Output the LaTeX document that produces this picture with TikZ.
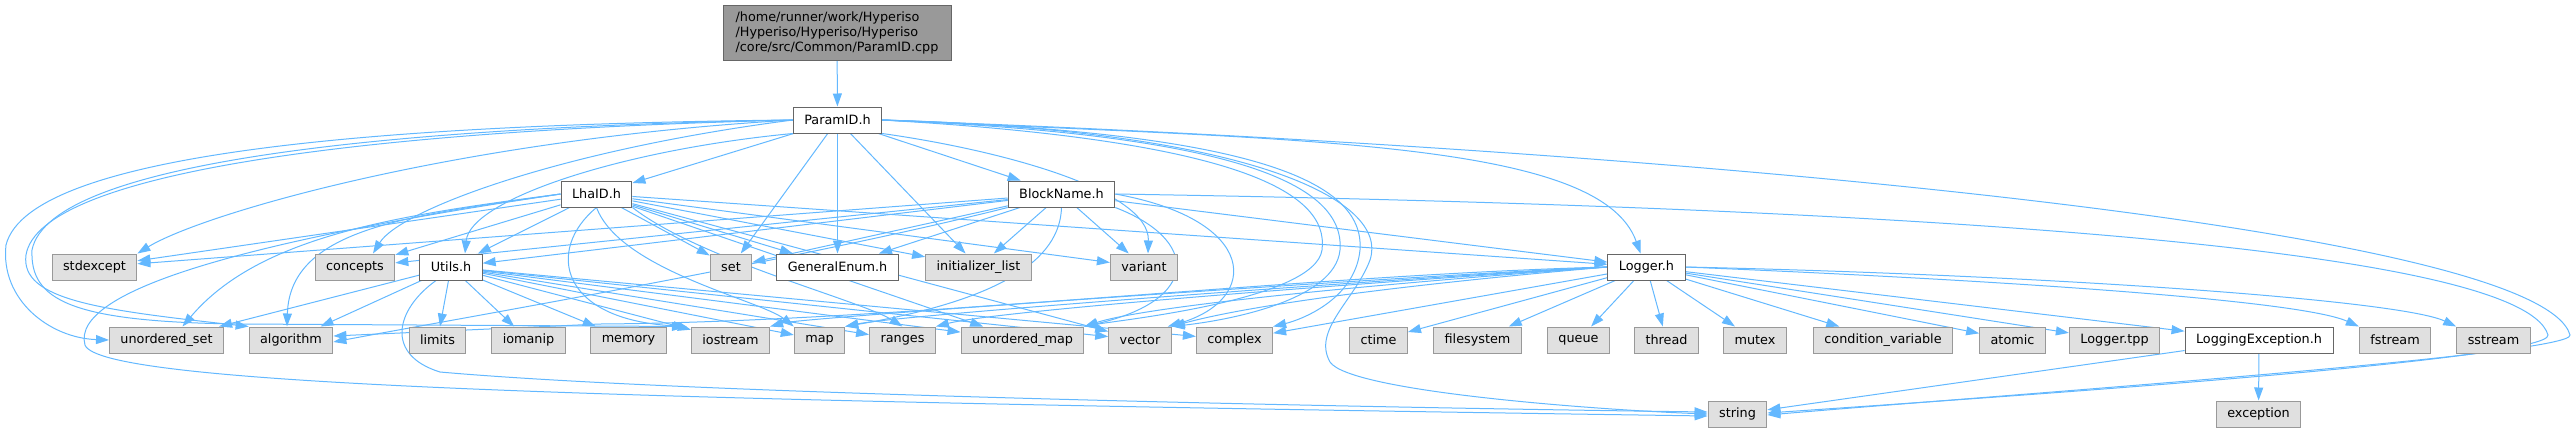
\documentclass[tikz,border=0pt]{standalone}
\usepackage{fontspec}
\setmainfont{DejaVu Sans}
\usetikzlibrary{arrows.meta,backgrounds}
\definecolor{edgecol}{HTML}{63B8FF}
\definecolor{sysfill}{HTML}{E0E0E0}
\definecolor{sysdraw}{HTML}{999999}
\definecolor{hdrdraw}{HTML}{666666}
\definecolor{rootfill}{HTML}{999999}
\tikzset{
  box/.style={rectangle, minimum height=26pt, inner xsep=11pt, inner ysep=0pt, line width=1pt, font=\fontsize{12.8}{15}\selectfont},
  hdr/.style={box, draw=hdrdraw, fill=white},
  sys/.style={box, draw=sysdraw, fill=sysfill},
  root/.style={box, draw=hdrdraw, fill=rootfill, align=left, minimum width=228pt, minimum height=55pt},
  edge/.style={draw=edgecol, line width=1pt, -{Triangle[length=13pt,width=9pt]}},
}

\begin{document}
\begin{tikzpicture}[x=1pt,y=-1pt]
\useasboundingbox (0,0) rectangle (2575,432);
\node[root] (ParamIDcpp) at (837,32.5) {/home/runner/work/Hyperiso\\/Hyperiso/Hyperiso/Hyperiso\\/core/src/Common/ParamID.cpp};
\node[hdr] (ParamIDh) at (837.5,120) {ParamID.h};
\node[hdr] (LhaIDh) at (596.5,194) {LhaID.h};
\node[hdr] (BlockNameh) at (1061.5,194) {BlockName.h};
\node[sys] (stdexcept) at (94.5,267) {stdexcept};
\node[sys] (concepts) at (355,267) {concepts};
\node[hdr] (Utilsh) at (451,267) {Utils.h};
\node[sys] (set) at (731,267) {set};
\node[hdr] (GeneralEnumh) at (837.5,267) {GeneralEnum.h};
\node[sys] (initializerlist) at (978.5,267) {initializer\_list};
\node[sys] (variant) at (1144,267) {variant};
\node[hdr] (Loggerh) at (1646.5,267) {Logger.h};
\node[sys] (unorderedset) at (166.5,340) {unordered\_set};
\node[sys] (algorithm) at (291,340) {algorithm};
\node[sys] (limits) at (437.5,340) {limits};
\node[sys] (iomanip) at (528.5,340) {iomanip};
\node[sys] (memory) at (628.5,340) {memory};
\node[sys] (iostream) at (730.5,340) {iostream};
\node[sys] (map) at (819.5,340) {map};
\node[sys] (ranges) at (902.5,340) {ranges};
\node[sys] (unorderedmap) at (1022.5,340) {unordered\_map};
\node[sys] (vector) at (1140,340) {vector};
\node[sys] (complex) at (1234.5,340) {complex};
\node[sys] (ctime) at (1378.5,340) {ctime};
\node[sys] (filesystem) at (1477.5,340) {filesystem};
\node[sys] (queue) at (1578.5,340) {queue};
\node[sys] (thread) at (1666.5,340) {thread};
\node[sys] (mutex) at (1755,340) {mutex};
\node[sys] (condvar) at (1883,340) {condition\_variable};
\node[sys] (atomic) at (2012.5,340) {atomic};
\node[sys] (Loggertpp) at (2114.5,340) {Logger.tpp};
\node[hdr] (LoggingExceptionh) at (2259,340) {LoggingException.h};
\node[sys] (fstream) at (2395,340) {fstream};
\node[sys] (sstream) at (2493.5,340) {sstream};
\node[sys] (string) at (1737.5,414) {string};
\node[sys] (exception) at (2258.5,414) {exception};

\begin{pgfonlayer}{background}
\draw[edge] (ParamIDcpp) -- (ParamIDh);

\draw[edge] (ParamIDh) -- (LhaIDh);
\draw[edge] (ParamIDh) -- (BlockNameh);
\draw[edge] (ParamIDh) -- (set);
\draw[edge] (ParamIDh) -- (GeneralEnumh);
\draw[edge] (ParamIDh) -- (initializerlist);
\draw[edge] (ParamIDh.south east) .. controls (1000,150) and (1150,190) .. ([xshift=4pt]variant.north);
\draw[edge] (ParamIDh.east) .. controls (1300,140) and (1600,140) .. ([xshift=-6pt]Loggerh.north);
\draw[edge] (ParamIDh.south west) .. controls (620,150) and (470,200) .. ([xshift=14pt]Utilsh.north);
\draw[edge] (ParamIDh.west) .. controls (560,150) and (400,210) .. ([xshift=18pt]concepts.north);
\draw[edge] (ParamIDh.west) .. controls (450,140) and (200,215) .. (stdexcept.north east);
\draw[edge] (ParamIDh.west) .. controls (400,124) and (30,150) .. (6,245) .. controls (0,300) and (50,338) .. (unorderedset.west);
\draw[edge] (ParamIDh.west) .. controls (380,130) and (40,170) .. (26,255) .. controls (20,300) and (100,310) .. (algorithm.north west);
\draw[edge] (ParamIDh.west) .. controls (400,127) and (50,160) .. (32,250) .. controls (30,300) and (70,322) .. (240,324) -- ([xshift=-6pt]iostream.north west);
\draw[edge] (ParamIDh.east) .. controls (1700,150) and (2540,230) .. (2570,335) .. controls (2575,355) and (2000,395) .. ([yshift=-1pt]string.east);
\draw[edge] (ParamIDh.east) .. controls (1250,130) and (1390,200) .. (1370,260) .. controls (1355,300) and (1312,330) .. (1330,362) .. controls (1350,392) and (1600,410) .. (string.west);
\draw[edge] (ParamIDh.east) .. controls (1250,132) and (1365,180) .. (1360,250) .. controls (1355,300) and (1300,320) .. (complex.north east);
\draw[edge] (ParamIDh.east) .. controls (1240,135) and (1345,185) .. (1340,250) .. controls (1335,300) and (1230,320) .. (vector.north east);
\draw[edge] (ParamIDh.east) .. controls (1230,140) and (1330,190) .. (1322,250) .. controls (1315,300) and (1120,320) .. (unorderedmap.north east);

\draw[edge] (LhaIDh) -- (stdexcept);
\draw[edge] (LhaIDh) -- (concepts);
\draw[edge] (LhaIDh) -- (Utilsh);
\draw[edge] (LhaIDh) -- (set);
\draw[edge] (LhaIDh) -- (GeneralEnumh);
\draw[edge] (LhaIDh) -- (initializerlist);
\draw[edge] (LhaIDh) -- (variant);
\draw[edge] (LhaIDh) -- (Loggerh);
\draw[edge] (LhaIDh.west) .. controls (400,215) and (260,235) .. ([xshift=16pt]unorderedset.north);
\draw[edge] (LhaIDh.west) .. controls (420,215) and (290,225) .. ([xshift=-4pt]algorithm.north);
\draw[edge] (LhaIDh.west) .. controls (250,240) and (70,290) .. (85,345) .. controls (100,385) and (600,400) .. ([yshift=-2pt]string.west);
\draw[edge] (LhaIDh.south) .. controls (545,250) and (560,320) .. ([xshift=-4pt]iostream.north west);
\draw[edge] (LhaIDh.south) .. controls (620,270) and (760,300) .. (map.north west);
\draw[edge] (LhaIDh.south east) .. controls (700,260) and (860,300) .. (ranges.north);
\draw[edge] (LhaIDh) -- (unorderedmap);
\draw[edge] (LhaIDh) -- (vector);

\draw[edge] (Utilsh) -- (unorderedset);
\draw[edge] (Utilsh) -- (algorithm);
\draw[edge] (Utilsh) -- (limits);
\draw[edge] (Utilsh) -- (iomanip);
\draw[edge] (Utilsh) -- (memory);
\draw[edge] (Utilsh) -- (iostream);
\draw[edge] (Utilsh) -- (map);
\draw[edge] (Utilsh) -- (ranges);
\draw[edge] (Utilsh) -- (unorderedmap);
\draw[edge] (Utilsh) -- (vector);
\draw[edge] (Utilsh) -- (complex);
\draw[edge] ([xshift=-15pt]Utilsh.south) .. controls (395,310) and (385,355) .. (440,372) .. controls (700,395) and (1400,408) .. ([yshift=2pt]string.west);

\draw[edge] (BlockNameh) -- (stdexcept);
\draw[edge] (BlockNameh) -- (concepts);
\draw[edge] (BlockNameh) -- (Utilsh);
\draw[edge] (BlockNameh) -- (set);
\draw[edge] (BlockNameh) -- (GeneralEnumh);
\draw[edge] (BlockNameh) -- (initializerlist);
\draw[edge] (BlockNameh) -- (variant);
\draw[edge] (BlockNameh) -- (Loggerh);
\draw[edge] (BlockNameh.south west) .. controls (800,260) and (450,320) .. ([yshift=-2pt]algorithm.east);
\draw[edge] (BlockNameh.south) .. controls (1060,260) and (1000,300) .. (map.north east);
\draw[edge] (BlockNameh.south east) .. controls (1200,240) and (1200,300) .. (unorderedmap.north east);
\draw[edge] (BlockNameh.east) .. controls (1260,220) and (1260,300) .. ([xshift=-4pt]vector.north east);
\draw[edge] (BlockNameh.east) .. controls (1800,205) and (2520,240) .. (2548,335) .. controls (2552,360) and (2000,397) .. ([yshift=1pt]string.east);

\draw[edge] (Loggerh) -- (ctime);
\draw[edge] (Loggerh) -- (filesystem);
\draw[edge] (Loggerh) -- (queue);
\draw[edge] (Loggerh) -- (thread);
\draw[edge] (Loggerh) -- (mutex);
\draw[edge] (Loggerh) -- (condvar);
\draw[edge] (Loggerh) -- (atomic);
\draw[edge] (Loggerh) -- (Loggertpp);
\draw[edge] (Loggerh) -- (LoggingExceptionh);
\draw[edge] (Loggerh.east) .. controls (2000,280) and (2300,300) .. (fstream.north west);
\draw[edge] (Loggerh.east) .. controls (2050,275) and (2400,300) .. (sstream.north west);
\draw[edge] (Loggerh) -- (complex);
\draw[edge] (Loggerh.west) .. controls (1400,285) and (1250,305) .. (vector.north east);
\draw[edge] (Loggerh.west) .. controls (1400,282) and (1150,305) .. (unorderedmap.north east);
\draw[edge] (Loggerh.west) .. controls (1400,280) and (1000,310) .. (ranges.north east);
\draw[edge] (Loggerh.west) .. controls (1400,278) and (900,315) .. (map.north east);
\draw[edge] (Loggerh.west) .. controls (1400,276) and (800,318) .. (iostream.north east);
\draw[edge] (Loggerh.west) .. controls (1300,275) and (900,322) .. (600,324) -- ([yshift=4pt]algorithm.east);

\draw[edge] (LoggingExceptionh) -- (string);
\draw[edge] (LoggingExceptionh) -- (exception);
\end{pgfonlayer}
\end{tikzpicture}
\end{document}
